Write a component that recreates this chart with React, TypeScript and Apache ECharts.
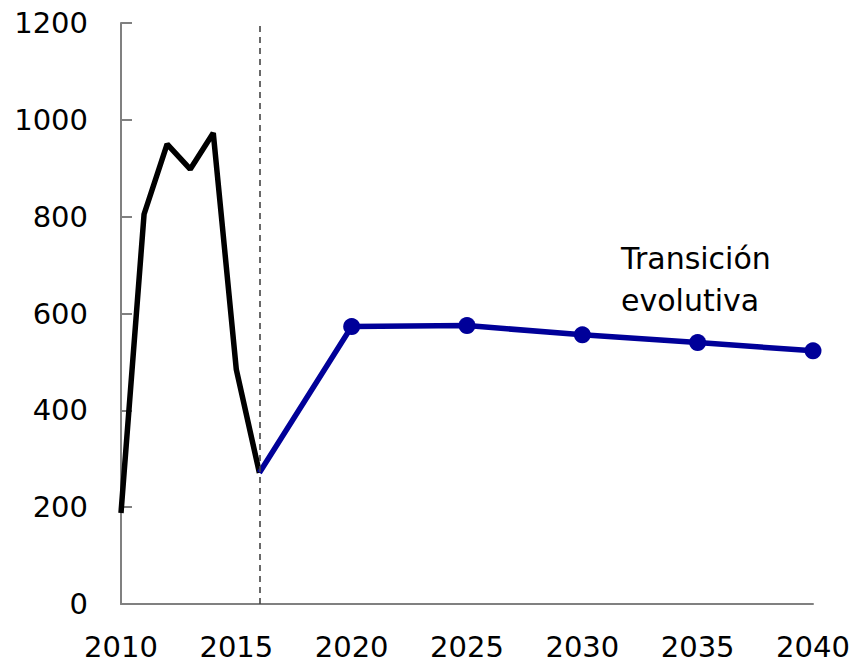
import React, { useEffect, useRef } from "react";
import * as echarts from "echarts";

const historicalYears = [2010, 2011, 2012, 2013, 2014, 2015, 2016];
const historicalValues = [188, 805, 950, 898, 973, 484, 271];

const projectionYears = [2016, 2020, 2025, 2030, 2035, 2040];
const projectionValues = [271, 573, 575, 556, 540, 523];

const dividerYear = 2016;
const annotationLines = ["Transición", "evolutiva"];

const FONT = "DejaVu Sans";

export default function App() {
  const ref = useRef<HTMLDivElement>(null);

  useEffect(() => {
    document.body.style.margin = "0";
    if (!ref.current) return;
    const chart = echarts.init(ref.current, undefined, { renderer: "svg" });

    const hist = historicalYears.map((y, i) => [y, historicalValues[i]]);
    const proj = projectionYears.map((y, i) =>
      i === 0
        ? { value: [y, projectionValues[i]], symbol: "none" }
        : { value: [y, projectionValues[i]] }
    );

    chart.setOption({
      animation: false,
      backgroundColor: "#ffffff",
      grid: { left: 121, right: 45, top: 23, bottom: 59, containLabel: false },
      xAxis: {
        type: "value",
        min: 2010,
        max: 2040,
        interval: 5,
        axisLine: { show: true, lineStyle: { color: "#808080", width: 2 } },
        axisTick: { show: false },
        splitLine: { show: false },
        axisLabel: {
          color: "#000",
          fontFamily: FONT,
          fontSize: 29,
          margin: 28,
          formatter: (v: number) => String(v),
        },
      },
      yAxis: {
        type: "value",
        min: 0,
        max: 1200,
        interval: 200,
        axisLine: { show: true, lineStyle: { color: "#808080", width: 2 } },
        axisTick: { show: true, inside: true, length: 11, lineStyle: { color: "#808080", width: 2 } },
        splitLine: { show: false },
        axisLabel: {
          color: "#000",
          fontFamily: FONT,
          fontSize: 29,
          margin: 33,
          formatter: (v: number) => String(v),
        },
      },
      series: [
        {
          type: "line",
          data: hist,
          showSymbol: false,
          symbol: "none",
          lineStyle: { color: "#000", width: 5.5 },
          itemStyle: { color: "#000" },
          z: 3,
          markLine: {
            silent: true,
            symbol: "none",
            label: { show: false },
            lineStyle: { color: "#444", type: [6, 5], width: 1.6 },
            data: [{ xAxis: dividerYear }],
          },
        },
        {
          type: "line",
          data: proj,
          symbol: "circle",
          symbolSize: 17,
          lineStyle: { color: "#000099", width: 5.5 },
          itemStyle: { color: "#000099" },
          z: 4,
        },
      ],
      graphic: [
        {
          type: "text",
          left: 621,
          top: 237,
          style: {
            text: annotationLines.join("\n"),
            fontFamily: FONT,
            fontSize: 30,
            lineHeight: 42,
            fill: "#000",
          },
        },
      ],
    });

    return () => chart.dispose();
  }, []);

  return <div ref={ref} style={{ width: 858, height: 663 }} />;
}
